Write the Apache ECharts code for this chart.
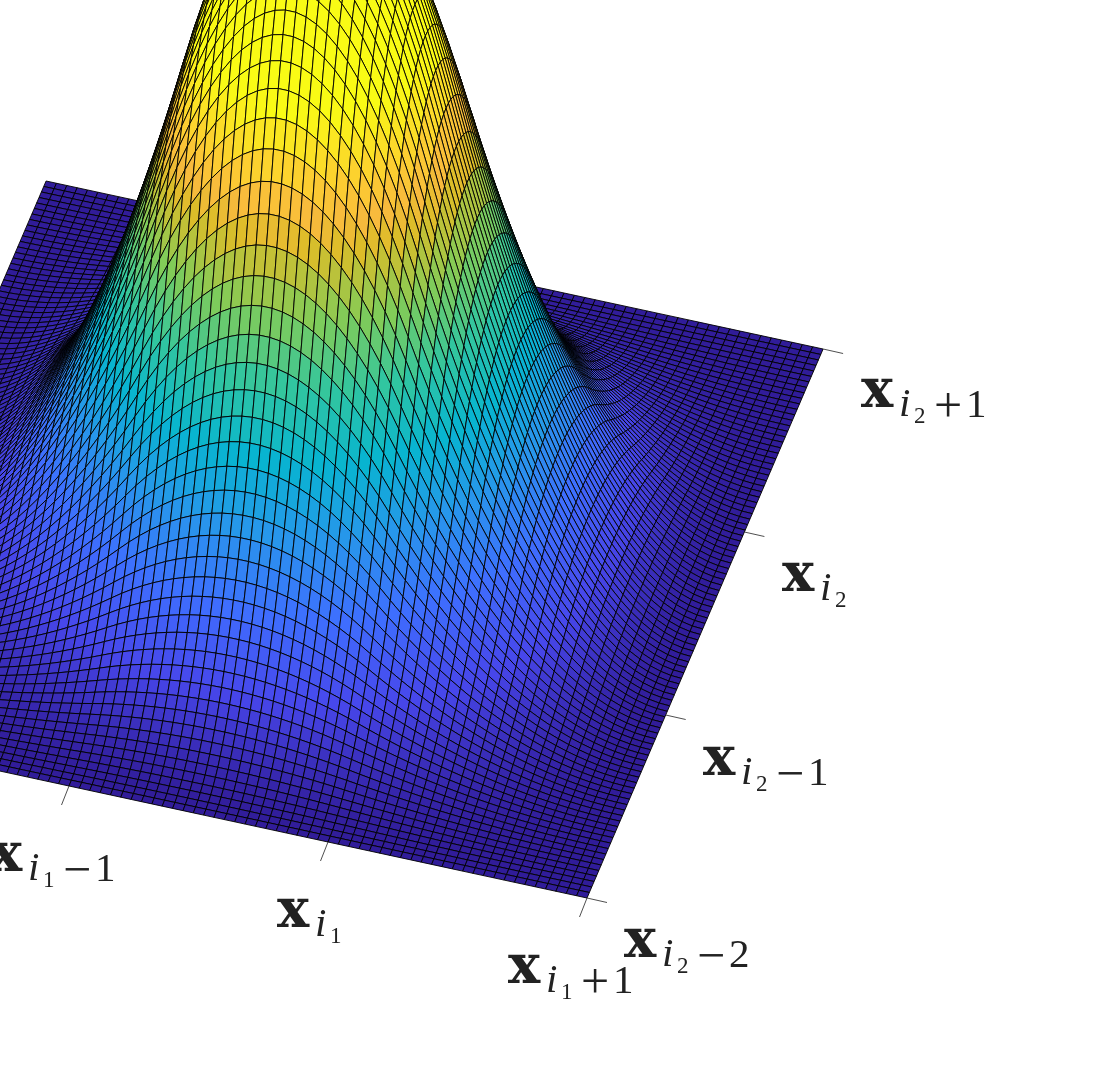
<!DOCTYPE html>
<html><head><meta charset="utf-8">
<style>html,body{margin:0;padding:0;background:#fff}#c{width:1112px;height:1088px}</style>
<script src="https://cdn.jsdelivr.net/npm/echarts@6/dist/echarts.min.js"></script>
</head><body><div id="c"></div>
<script>
// Height profile of the bump along each knot direction, read at mesh stations over 3 knot spans
const profileI1 = [0,.0008,.0032,.0072,.0128,.02,.0288,.0392,.0512,.0648,.08,.0968,.1152,.1352,.1568,.18,.2048,.2312,.2592,.2888,.32,.3528,.3872,.4232,.4608,.5,.5384,.5736,.6056,.6344,.66,.6824,.7016,.7176,.7304,.74,.7464,.7496,.7496,.7464,.74,.7304,.7176,.7016,.6824,.66,.6344,.6056,.5736,.5384,.5,.4608,.4232,.3872,.3528,.32,.2888,.2592,.2312,.2048,.18,.1568,.1352,.1152,.0968,.08,.0648,.0512,.0392,.0288,.02,.0128,.0072,.0032,.0008,0];
const profileI2 = [0,.0005,.0018,.0041,.0072,.0113,.0162,.0221,.0288,.0365,.045,.0545,.0648,.0761,.0882,.1013,.1152,.1301,.1458,.1625,.18,.1985,.2178,.2381,.2592,.2813,.3042,.3281,.3528,.3785,.405,.4325,.4608,.4901,.5196,.5475,.5736,.5979,.6204,.6411,.66,.6771,.6924,.7059,.7176,.7275,.7356,.7419,.7464,.7491,.75,.7491,.7464,.7419,.7356,.7275,.7176,.7059,.6924,.6771,.66,.6411,.6204,.5979,.5736,.5475,.5196,.4901,.4608,.4325,.405,.3785,.3528,.3281,.3042,.2813,.2592,.2381,.2178,.1985,.18,.1625,.1458,.1301,.1152,.1013,.0882,.0761,.0648,.0545,.045,.0365,.0288,.0221,.0162,.0113,.0072,.0041,.0018,.0005,0];
// Tick positions along the two base edges, in knot spans from the front corner
const ticksI1 = [0,1,2];
const ticksI2 = [0,1,2,3];
// Tick labels: bold x, index letter, index digit, sign, offset digit
const labelsI1 = [['x','i','1','+','1'],['x','i','1','',''],['x','i','1','\u2212','1']];
const labelsI2 = [['x','i','2','\u2212','2'],['x','i','2','\u2212','1'],['x','i','2','',''],['x','i','2','+','1']];

// View settings
const ORIGIN=[587,898], SPAN_I1=[-259,-56], SPAN_I2=[78.7,-183], HEIGHT=1225, CLIM=0.42, SPANS=3;
const LABEL_POS_I1=[[508,984],[277,928],[-10,872]];
const LABEL_POS_I2=[[624,958],[703,776],[782,592],[861,408]];
const PARULA=[[0,.19,.11,.6],[7,.2803,.2782,.9221],[14,.244,.4358,.9988],[21,.154,.5902,.9218],[28,.0297,.7082,.8163],[35,.1938,.7758,.6251],[42,.5044,.7993,.348],[49,.8634,.7406,.1596],[52,.9728,.7298,.2394],[56,.9892,.8136,.1885],[63,.9769,.9839,.0805]];
function parula(c){
  const t=Math.max(0,Math.min(1,c))*63;
  for(let k=1;k<PARULA.length;k++){
    if(t<=PARULA[k][0]){
      const a=PARULA[k-1],b=PARULA[k],f=(t-a[0])/(b[0]-a[0]);
      return 'rgb('+[1,2,3].map(n=>Math.round(255*(a[n]+(b[n]-a[n])*f))).join(',')+')';
    }
  }
  return 'rgb(249,251,21)';
}
function base(u,v){return [ORIGIN[0]+u*SPAN_I1[0]+v*SPAN_I2[0], ORIGIN[1]+u*SPAN_I1[1]+v*SPAN_I2[1]];}
const N1=profileI1.length-1,N2=profileI2.length-1;
function vert(i,j){
  const p=base(i/N1*SPANS,j/N2*SPANS);
  return [p[0],p[1]-HEIGHT*profileI1[i]*profileI2[j]];
}
const cells=[];
for(let i=N1-1;i>=0;i--)for(let j=N2-1;j>=0;j--)cells.push([i,j]);

const chart=echarts.init(document.getElementById('c'),null,{renderer:'canvas'});
const tickData=[];
ticksI1.forEach(t=>tickData.push([t,0,-7.5,19]));
ticksI2.forEach(t=>tickData.push([0,t,20,4.5]));
const labelData=[];
labelsI1.forEach((l,k)=>labelData.push([...LABEL_POS_I1[k],...l]));
labelsI2.forEach((l,k)=>labelData.push([...LABEL_POS_I2[k],...l]));
const INK='#222';
function piece(text,x,y,size,family,weight,style){
  const mid={'DejaVu Serif':.272,'Liberation Serif':.28}[family]*size;
  return {type:'text',style:{text,x,y:y-mid,fontSize:size,fontFamily:family,fontWeight:weight,fontStyle:style,fill:INK,align:'left',verticalAlign:'middle'}};
}
chart.setOption({
  animation:false,
  backgroundColor:'#fff',
  grid:{left:0,right:0,top:0,bottom:0},
  xAxis:{type:'value',min:0,max:1112,show:false},
  yAxis:{type:'value',min:0,max:1088,inverse:true,show:false},
  series:[
   {type:'custom',coordinateSystem:'cartesian2d',silent:true,progressive:0,clip:false,data:cells,encode:{x:0,y:1},
    renderItem(params,api){
      const i=api.value(0),j=api.value(1);
      const corners=[[i,j],[i+1,j],[i+1,j+1],[i,j+1]];
      const pts=corners.map(c=>api.coord(vert(c[0],c[1])));
      const z=corners.reduce((s,c)=>s+profileI1[c[0]]*profileI2[c[1]],0)/4;
      return {type:'polygon',shape:{points:pts},style:{fill:parula(z/CLIM),stroke:'#000',lineWidth:.9}};
    }},
   {type:'custom',coordinateSystem:'cartesian2d',silent:true,clip:false,data:tickData,encode:{x:0,y:1},
    renderItem(params,api){
      const b=base(api.value(0),api.value(1));
      const p=api.coord(b),q=api.coord([b[0]+api.value(2),b[1]+api.value(3)]);
      return {type:'line',shape:{x1:p[0],y1:p[1],x2:q[0],y2:q[1]},style:{stroke:'#222',lineWidth:.8}};
    }},
   {type:'custom',coordinateSystem:'cartesian2d',silent:true,clip:false,data:labelData.map(d=>[d[0],d[1]]),encode:{x:0,y:1},
    renderItem(params,api){
      const d=labelData[params.dataIndex];
      const o=api.coord([d[0],d[1]]),X=o[0],Y=o[1];
      const ch=[piece(d[2],X,Y,54,'DejaVu Serif','bold','normal'),
                piece(d[3],X+38,Y+9,41,'Liberation Serif','normal','italic'),
                piece(d[4],X+53,Y+15.5,23,'Liberation Serif','normal','normal')];
      if(d[5]){ch.push(piece(d[5],X+73,Y+15,50,'Liberation Serif','normal','normal'));
               ch.push(piece(d[6],X+105,Y+10,41,'Liberation Serif','normal','normal'));}
      return {type:'group',children:ch};
    }}
  ]
});
</script></body></html>
